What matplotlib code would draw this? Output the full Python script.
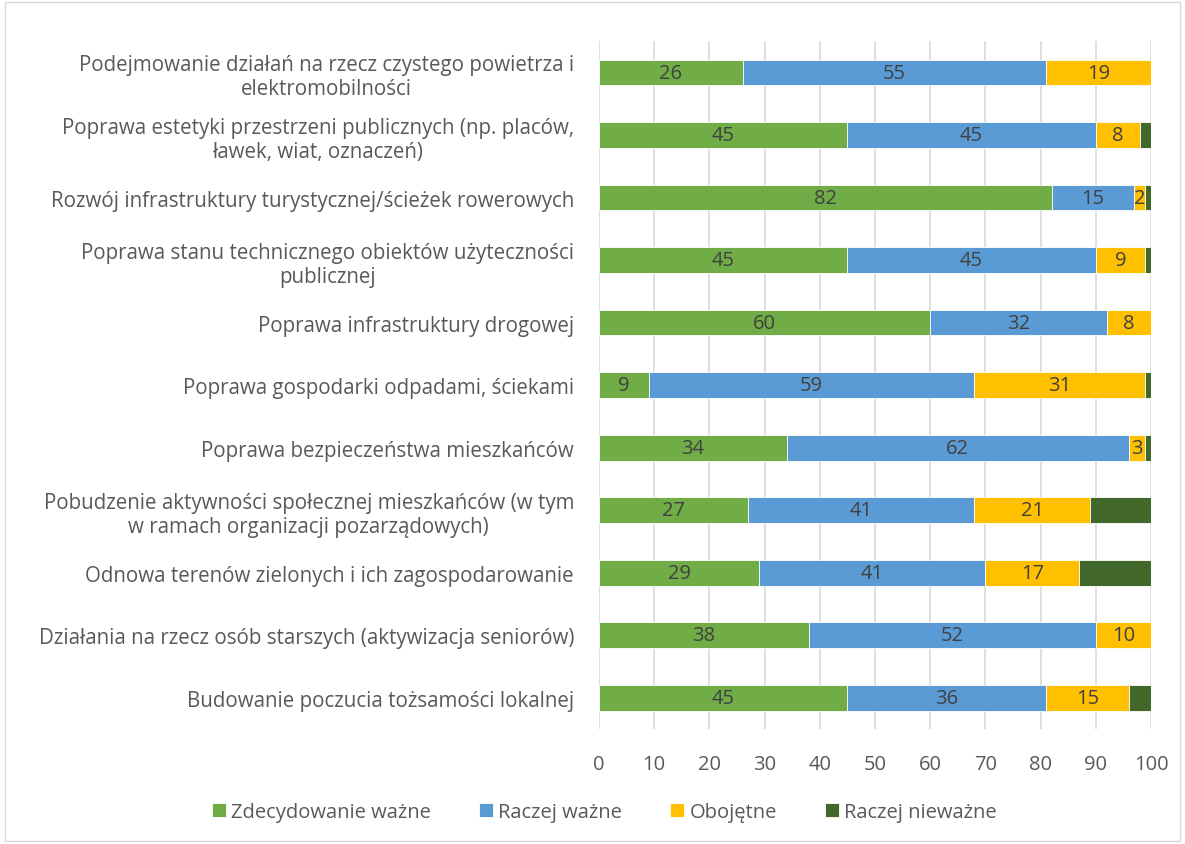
import matplotlib.pyplot as plt
import numpy as np

# categories (top to bottom as in the chart)
categories = [
    "Podejmowanie działań na rzecz czystego powietrza i\nelektromobilności",
    "Poprawa estetyki przestrzeni publicznych (np. placów,\nławek, wiat, oznaczeń)",
    "Rozwój infrastruktury turystycznej/ścieżek rowerowych",
    "Poprawa stanu technicznego obiektów użyteczności\npublicznej",
    "Poprawa infrastruktury drogowej",
    "Poprawa gospodarki odpadami, ściekami",
    "Poprawa bezpieczeństwa mieszkańców",
    "Pobudzenie aktywności społecznej mieszkańców (w tym\nw ramach organizacji pozarządowych)",
    "Odnowa terenów zielonych i ich zagospodarowanie",
    "Działania na rzecz osób starszych (aktywizacja seniorów)",
    "Budowanie poczucia tożsamości lokalnej",
]

zdecydowanie = [26, 45, 82, 45, 60, 9, 34, 27, 29, 38, 45]
raczej = [55, 45, 15, 45, 32, 59, 62, 41, 41, 52, 36]
obojetne = [19, 8, 2, 9, 8, 31, 3, 21, 17, 10, 15]
niewazne = [0, 2, 1, 1, 0, 1, 1, 11, 13, 0, 4]

series_names = ["Zdecydowanie ważne", "Raczej ważne", "Obojętne", "Raczej nieważne"]
colors = ["#70ad47", "#5b9bd5", "#ffc000", "#43682b"]

plt.rcParams['font.family'] = ['Open Sans', 'DejaVu Sans']

fig = plt.figure(figsize=(11.85, 8.45), dpi=100)
ax = fig.add_axes([0.5055, 0.136, 0.4658, 0.814])

y = np.arange(len(categories))
left = np.zeros(len(categories))
for name, vals, col in zip(series_names, [zdecydowanie, raczej, obojetne, niewazne], colors):
    vals = np.array(vals)
    ax.barh(y, vals, left=left, height=0.41, color=col, label=name,
            edgecolor='white', linewidth=0.6, zorder=3)
    if name != "Raczej nieważne":
        for yi, l, v in zip(y, left, vals):
            if v > 0:
                ax.text(l + v / 2, yi, str(v), ha='center', va='center',
                        fontsize=14.5, color='#404040', zorder=4)
    left += vals

ax.set_ylim(len(categories) - 0.5, -0.5)
ax.set_xlim(0, 100)
ax.set_xticks(range(0, 101, 10))
ax.set_yticks(y)
ax.set_yticklabels(categories, fontsize=14.8, color='#595959', multialignment='center')
ax.tick_params(axis='x', labelsize=14.5, labelcolor='#595959', length=0, pad=18)
ax.tick_params(axis='y', length=0, pad=18)
ax.grid(axis='x', color='#d9d9d9', linewidth=1.2, zorder=0)
for s in ax.spines.values():
    s.set_visible(False)

fig.legend(loc='lower center', bbox_to_anchor=(0.51, 0.005), ncol=4, frameon=False,
           fontsize=14.5, handlelength=0.7, handleheight=0.7, columnspacing=2.4,
           handletextpad=0.25, labelcolor='#595959')

border = plt.Rectangle((0.004, 0.004), 0.992, 0.992, transform=fig.transFigure,
                       fill=False, edgecolor='#d9d9d9', linewidth=1)
fig.patches.append(border)

fig.savefig('out.png', dpi=100)
